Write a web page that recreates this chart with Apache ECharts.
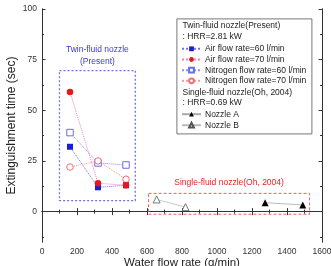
<!DOCTYPE html>
<html>
<head>
<meta charset="utf-8">
<script src="https://cdn.jsdelivr.net/npm/echarts@6/dist/echarts.min.js"></script>
<style>
  html, body { margin: 0; padding: 0; background: #fff; }
  #main { width: 331px; height: 266px; }
</style>
</head>
<body>
<div id="main"></div>
<script>
// twin-fluid nozzle (present), water flow rate g/min
var twinWater = [160, 320, 480];
var air60 = [32, 12, 13];
var air70 = [59, 14, 13];
var nitro60 = [39, 24, 23];
var nitro70 = [22, 25, 16];

// single-fluid nozzle (Oh, 2004)
var nozzleAWater = [1275, 1490];
var nozzleA = [4.4, 3.3];
var nozzleBWater = [655, 820];
var nozzleB = [6, 2.2];

var yLabels = [0, 25, 50, 75, 100];
var yMinor = [-12.5, 12.5, 37.5, 62.5, 87.5];

// annotation boxes [x0, y0, x1, y1] in data units
var twinBox = [100, 5.4, 533, 69.6];
var singleBox = [609, -1.3, 1529, 9];

var FONT = 'Liberation Sans, Arial, sans-serif';

function pairs(xs, ys) {
    var out = [];
    for (var i = 0; i < xs.length; i++) out.push([xs[i], ys[i]]);
    return out;
}

function plain(v) { return String(v); }

var myChart = echarts.init(document.getElementById('main'));

function yAx(pos, ticks, len, labels) {
    return {
        type: 'value', position: pos, min: -15, max: 100,
        splitLine: {show: false},
        axisLine: {show: true, lineStyle: {color: '#333', width: 1}},
        axisTick: {show: true, inside: true, length: len, customValues: ticks, lineStyle: {color: '#333'}},
        axisLabel: labels ? {show: true, customValues: yLabels, formatter: plain, fontSize: 8.5, color: '#333', fontFamily: FONT, margin: 5} : {show: false}
    };
}

function xAx(pos, labels) {
    return {
        type: 'value', position: pos, min: 0, max: 1600, interval: 200,
        splitLine: {show: false},
        axisLine: {show: true, lineStyle: {color: '#333', width: 1}},
        axisTick: {show: true, inside: true, length: 3.5, lineStyle: {color: '#333'}},
        minorTick: {show: true, splitNumber: 2, length: 2, lineStyle: {color: '#333'}},
        axisLabel: labels ? {show: true, formatter: plain, fontSize: 8.5, color: '#333', fontFamily: FONT, margin: 5} : {show: false}
    };
}

var xMain = xAx('bottom', true);
xMain.name = 'Water flow rate (g/min)';
xMain.nameLocation = 'middle';
xMain.nameGap = 15;
xMain.nameMoveOverlap = false;
xMain.nameTextStyle = {fontSize: 11.5, color: '#222', fontFamily: FONT};

var yMain = yAx('left', yLabels, 3.5, true);
yMain.name = 'Extinguishment time (sec)';
yMain.nameLocation = 'middle';
yMain.nameGap = 24;
yMain.nameMoveOverlap = false;
yMain.nameTextStyle = {fontSize: 12, color: '#222', fontFamily: FONT};

var yMinorL = yAx('left', yMinor, 2, false);
var yMajorR = yAx('right', yLabels, 3.5, false);
var yMinorR = yAx('right', yMinor, 2, false);

function lineSeries(name, ys, symbol, size, itemStyle, lineColor, extra) {
    var s = {
        name: name,
        type: 'line',
        data: pairs(twinWater, ys),
        symbol: symbol,
        symbolSize: size,
        itemStyle: itemStyle,
        lineStyle: {color: lineColor, width: 1, type: 'dotted'},
        animation: false
    };
    for (var k in extra) s[k] = extra[k];
    return s;
}

var series = [
    lineSeries('Air flow rate=60 l/min', air60, 'rect', 6,
        {color: '#1a1ae6'}, '#7070f0', {}),
    lineSeries('Nitrogen flow rate=60 l/min', nitro60, 'rect', 6.5,
        {color: '#fff', borderColor: '#6a6af0', borderWidth: 1}, '#8c8cf2', {
            markArea: {
                silent: true,
                itemStyle: {color: 'rgba(0,0,0,0)', borderColor: '#7070ee', borderWidth: 1.3, borderType: [2, 2]},
                label: {show: true, position: 'top', distance: 2, color: '#3a3ae0', fontSize: 8.5, fontFamily: FONT,
                    lineHeight: 12, align: 'center'},
                data: [[{name: 'Twin-fluid nozzle\n(Present)', coord: [twinBox[0], twinBox[3]]}, {coord: [twinBox[2], twinBox[1]]}]]
            }
        }),
    lineSeries('Nitrogen flow rate=70 l/min', nitro70, 'circle', 6.5,
        {color: '#fff', borderColor: '#f07070', borderWidth: 1}, '#f49a9a', {}),
    lineSeries('Air flow rate=70 l/min', air70, 'circle', 6.5,
        {color: '#e81818'}, '#f080c8', {}),
    {
        name: 'Nozzle A',
        type: 'line',
        data: pairs(nozzleAWater, nozzleA),
        symbol: 'triangle',
        symbolSize: 7,
        itemStyle: {color: '#000'},
        lineStyle: {color: '#aaa', width: 0.8},
        animation: false,
        markArea: {
            silent: true,
            itemStyle: {color: 'rgba(0,0,0,0)', borderColor: '#f06060', borderWidth: 1, borderType: [3, 2]},
            label: {show: true, position: 'top', distance: 6, color: '#ee2020', fontSize: 8.5, fontFamily: FONT},
            data: [[{name: 'Single-fluid nozzle(Oh, 2004)', coord: [singleBox[0], singleBox[3]]}, {coord: [singleBox[2], singleBox[1]]}]]
        }
    },
    {
        name: 'Nozzle B',
        type: 'line',
        data: pairs(nozzleBWater, nozzleB),
        symbol: 'triangle',
        symbolSize: 7,
        itemStyle: {color: '#fff', borderColor: '#555', borderWidth: 0.8},
        lineStyle: {color: '#bbb', width: 0.8},
        animation: false
    }
];

// one legend per entry so the rows line up with the header lines
var legendRows = [
    ['Air flow rate=60 l/min', 49.3],
    ['Air flow rate=70 l/min', 60],
    ['Nitrogen flow rate=60 l/min', 70.7],
    ['Nitrogen flow rate=70 l/min', 81.3],
    ['Nozzle A', 114.7],
    ['Nozzle B', 125.7]
];
var legends = legendRows.map(function (r) {
    return {
        data: [r[0]],
        left: 181,
        top: r[1] - 5,
        padding: 0,
        itemWidth: 19,
        itemHeight: 6,
        itemGap: 0,
        selectedMode: false,
        textStyle: {fontSize: 8.5, color: '#222', fontFamily: FONT, padding: [0, 0, 0, -1]}
    };
});

function header(text, y) {
    return {type: 'text', left: 182.5, top: y - 5.5, silent: true,
        style: {text: text, fontSize: 8.5, fill: '#222', fontFamily: FONT}};
}

var option = {
    backgroundColor: '#fff',
    animation: false,
    grid: {left: 42, right: 9, top: 9, bottom: 24, outerBoundsMode: 'none', containLabel: false},
    xAxis: [xMain, xAx('top', false)],
    yAxis: [yMain, yMinorL, yMajorR, yMinorR],
    legend: legends,
    graphic: [
        {type: 'rect', left: 176.5, top: 18.5, silent: true, z: 0,
            shape: {width: 135, height: 115},
            style: {fill: '#fff', stroke: '#555', lineWidth: 0.8}},
        header('Twin-fluid nozzle(Present)', 26.7),
        header(': HRR=2.81 kW', 37.3),
        header('Single-fluid nozzle(Oh, 2004)', 93.3),
        header(': HRR=0.69 kW', 104)
    ],
    series: series
};

myChart.setOption(option);
</script>
</body>
</html>
